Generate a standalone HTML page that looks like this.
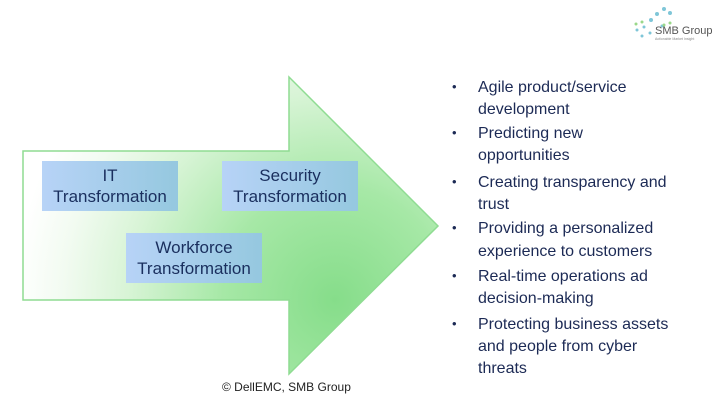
<!DOCTYPE html>
<html><head><meta charset="utf-8"><style>
body{margin:0;width:720px;height:405px;background:#fff;position:relative;overflow:hidden;font-family:"Liberation Sans",sans-serif}
.box{position:absolute;width:136px;height:50px;background:linear-gradient(90deg,#b7d3f7,#95c8df);color:#1a2f5e;font-size:17px;line-height:21px;text-align:center;display:flex;flex-direction:column;justify-content:center}
.l{position:absolute;left:478px;font-size:16px;color:#1c2a55;white-space:nowrap;line-height:20px}
.b{position:absolute;left:452px;font-size:13px;color:#1c2a55}
</style></head><body>
<svg width="720" height="405" style="position:absolute;left:0;top:0">
<defs>
<radialGradient id="g" gradientUnits="userSpaceOnUse" cx="335" cy="300" r="320">
<stop offset="0" stop-color="#86dd8a"/>
<stop offset="0.35" stop-color="#a6e8a6"/>
<stop offset="0.65" stop-color="#d8f4d6"/>
<stop offset="0.85" stop-color="#f2fbf1"/>
<stop offset="1" stop-color="#ffffff"/>
</radialGradient>
</defs>
<polygon points="23,151 289,151 289,77 438,226 289,374 289,300 23,300" fill="url(#g)" stroke="#8fdc92" stroke-width="1.5"/>
<g fill="#7fc6d8"><circle cx="664" cy="9" r="2"/><circle cx="670" cy="13" r="2"/><circle cx="657" cy="14" r="2"/><circle cx="651" cy="20" r="2"/><circle cx="644" cy="27" r="1.5"/><circle cx="637" cy="30" r="1.5"/><circle cx="662" cy="26" r="1.5"/><circle cx="650" cy="33" r="1.5"/><circle cx="642" cy="36" r="1.5"/></g>
<g fill="#9ad88a"><circle cx="636" cy="24" r="1.5"/><circle cx="642" cy="22" r="1.5"/><circle cx="670" cy="23" r="1.5"/><circle cx="664" cy="25" r="1.5"/></g>
<text x="655" y="34" font-family="Liberation Sans" font-size="11" fill="#555">SMB Group</text>
<text x="655" y="40" font-family="Liberation Sans" font-size="3.5" fill="#888">Actionable Market Insight</text>
</svg>
<div class="box" style="left:42px;top:161px"><div>IT</div><div>Transformation</div></div>
<div class="box" style="left:222px;top:161px"><div>Security</div><div>Transformation</div></div>
<div class="box" style="left:126px;top:233px"><div>Workforce</div><div>Transformation</div></div>
<div style="position:absolute;left:222px;top:380px;font-size:12px;color:#222">© DellEMC, SMB Group</div>
<div class="b" style="top:79px">•</div><div class="l" style="top:78px">Agile product/service</div><div class="l" style="top:100px">development</div>
<div class="b" style="top:125px">•</div><div class="l" style="top:124px">Predicting new</div><div class="l" style="top:146px">opportunities</div>
<div class="b" style="top:174px">•</div><div class="l" style="top:173px">Creating transparency and</div><div class="l" style="top:195px">trust</div>
<div class="b" style="top:220px">•</div><div class="l" style="top:219px">Providing a personalized</div><div class="l" style="top:242px">experience to customers</div>
<div class="b" style="top:268px">•</div><div class="l" style="top:267px">Real-time operations ad</div><div class="l" style="top:289px">decision-making</div>
<div class="b" style="top:316px">•</div><div class="l" style="top:315px">Protecting business assets</div><div class="l" style="top:337px">and people from cyber</div><div class="l" style="top:359px">threats</div>
</body></html>
